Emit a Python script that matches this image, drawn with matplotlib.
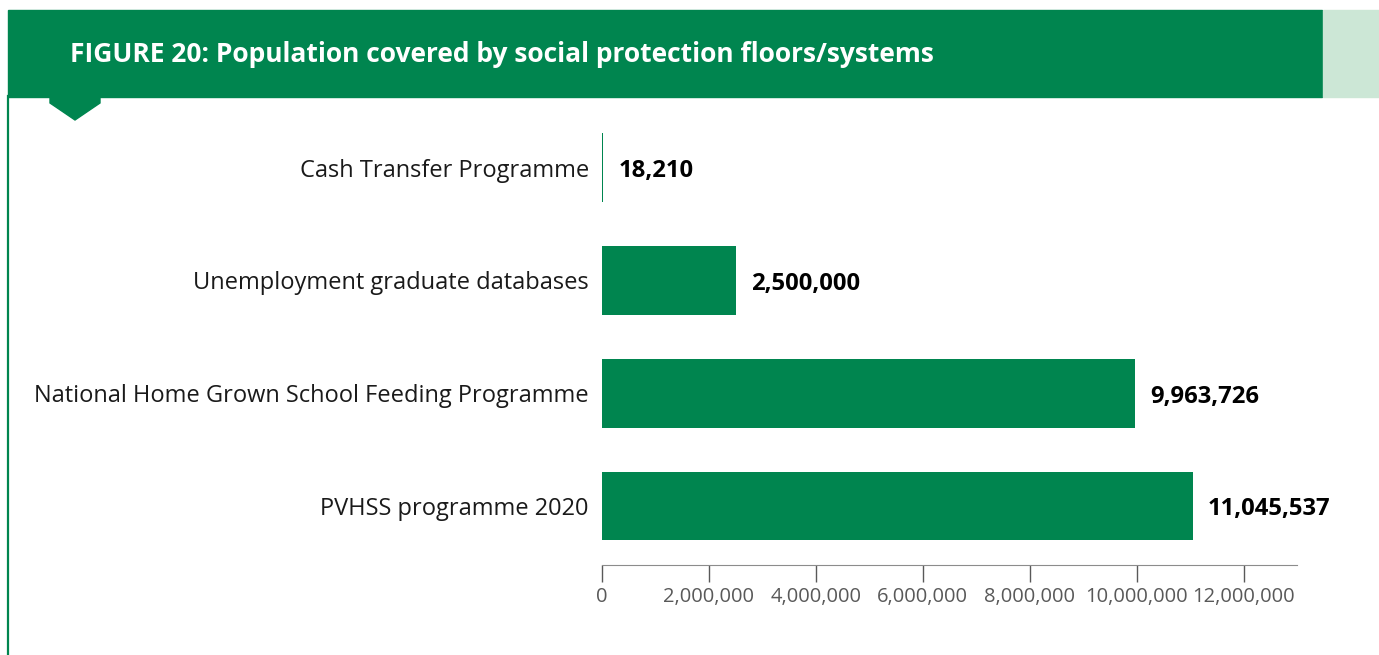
import numpy as np
import matplotlib.pyplot as plt
from matplotlib.patches import Rectangle, Polygon
from matplotlib.lines import Line2D
from matplotlib.ticker import FuncFormatter

plt.rcParams['font.family'] = ['Open Sans', 'DejaVu Sans']

title = "FIGURE 20: Population covered by social protection floors/systems"
categories = ["Cash Transfer Programme",
              "Unemployment graduate databases",
              "National Home Grown School Feeding Programme",
              "PVHSS programme 2020"]
values = [18210, 2500000, 9963726, 11045537]
ticks = [0, 2000000, 4000000, 6000000, 8000000, 10000000, 12000000]

green = "#00854f"
light_green = "#cce7d6"

fig = plt.figure(figsize=(13.79, 6.55), dpi=100)
W, H = 1379, 655

def fx(px):
    return px / W

def fy(py):
    return 1 - py / H

# header band
fig.patches.append(Rectangle((fx(8), fy(97)), fx(1322 - 8), 87 / H,
                             transform=fig.transFigure, color=green, zorder=0))
fig.patches.append(Rectangle((fx(1323), fy(97)), fx(W - 1323), 87 / H,
                             transform=fig.transFigure, color=light_green, zorder=0))
fig.patches.append(Polygon([(fx(50), fy(96)), (fx(100), fy(96)), (fx(100), fy(103)),
                            (fx(75), fy(120)), (fx(50), fy(103))],
                           closed=True, transform=fig.transFigure, color=green, zorder=0))
fig.lines.append(Line2D([fx(8), fx(8)], [fy(96), 0], transform=fig.transFigure,
                        color=green, lw=1.6))
fig.text(fx(70), fy(54), title, color="white", fontsize=19, fontweight="bold",
         va="center", ha="left")

ax = fig.add_axes([602 / W, 1 - 565 / H, 695 / W, 465 / H])
y = np.arange(len(categories))[::-1]
ax.barh(y, values, height=0.61, color=green, linewidth=0)
ax.set_xlim(0, 13000000)
ax.set_ylim(-0.523, 3.6)

ax.set_yticks(y)
ax.set_yticklabels(categories, fontsize=17, color="#1a1a1a")
ax.tick_params(axis="y", length=0, pad=9.5)

ax.set_xticks(ticks)
ax.xaxis.set_major_formatter(FuncFormatter(lambda v, p: f"{int(v):,}"))
ax.tick_params(axis="x", length=12, width=1, color="#595959", labelcolor="#595959",
               labelsize=14.5, pad=4, direction="out")

for s in ["top", "right", "left"]:
    ax.spines[s].set_visible(False)
ax.spines["bottom"].set_color("#8c8c8c")

for yi, v in zip(y, values):
    ax.annotate(f"{v:,}", (v, yi), xytext=(11, -2.5), textcoords="offset points",
                va="center", ha="left", fontsize=17.2, fontweight="bold", color="black")

fig.savefig("out.png", dpi=100)
